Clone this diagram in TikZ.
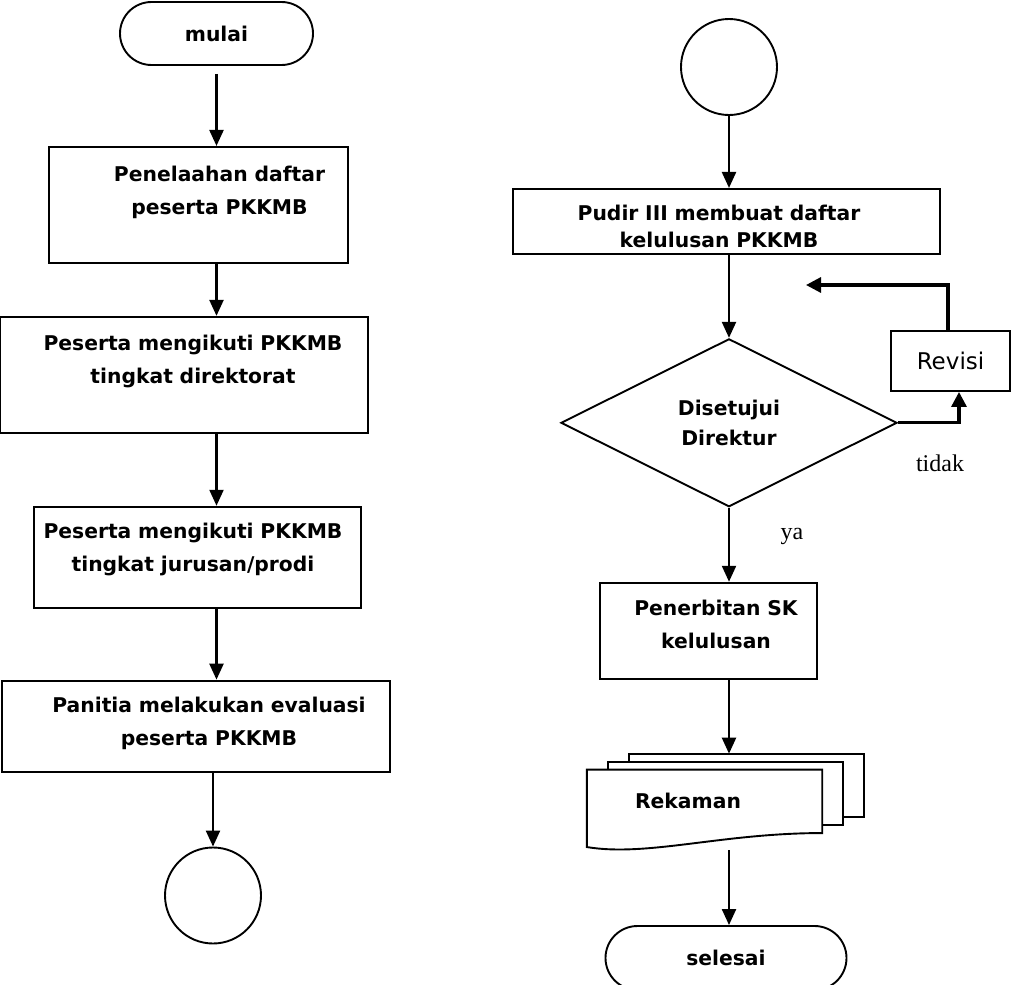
\documentclass[tikz,border=0pt]{standalone}
\usepackage{fontspec}
\setmainfont{DejaVu Sans}
\newfontfamily\ketfont{Liberation Serif}
\usetikzlibrary{positioning, shapes.geometric, shapes.misc, arrows.meta, backgrounds}

\begin{document}
\begin{tikzpicture}[
    x=1pt, y=-1pt,
    font=\bfseries\fontsize{20.3}{33}\selectfont,
    geser/.code={\def\tekgeser{#1}},
    terminal/.style={rounded rectangle, draw, line width=1.9pt, minimum width=#1, minimum height=63pt, inner sep=0pt},
    process/.style 2 args={rectangle, draw, line width=1.9pt, minimum width=#1, text width=#1, minimum height=#2, inner sep=0pt, geser=0pt,
        execute at begin node={\centering\leftskip=\tekgeser plus 1fil\relax}},
    connector/.style={circle, draw, line width=1.9pt, minimum size=96pt, inner sep=0pt},
    decision/.style={diamond, draw, line width=1.9pt, minimum width=336pt, minimum height=168pt, inner sep=0pt, align=center, font=\bfseries\fontsize{20.3}{30}\selectfont},
    docline/.style={draw, line width=1.9pt, fill=white},
    note/.style={font=\ketfont\mdseries\fontsize{24}{28}\selectfont},
    arrow/.style={-{Triangle[length=16pt, width=14pt]}, line width=2.3pt},
    revarrow/.style={-{Triangle[length=15pt, width=15pt]}, line width=3.2pt}
]
\useasboundingbox (0,0) rectangle (1012,985);

% Left column
\node[terminal=193pt] (mulai) at (216.5,33.5) {mulai};
\node[process={299pt}{116pt}, geser=42pt, text depth=62pt, below=80pt of mulai, xshift=-18pt] (telaah) {Penelaahan daftar\\peserta PKKMB};
\node[process={368pt}{116pt}, geser=18pt, text depth=64pt, below=52pt of telaah, xshift=-14.5pt] (direktorat) {Peserta mengikuti PKKMB\\tingkat direktorat};
\node[process={327pt}{101pt}, geser=-9pt, text depth=52pt, below=72pt of direktorat, xshift=13.5pt] (jurusan) {Peserta mengikuti PKKMB\\tingkat jurusan/prodi};
\node[process={388pt}{91pt}, geser=26pt, text depth=43pt, below=71pt of jurusan, xshift=-1.5pt] (evaluasi) {Panitia melakukan evaluasi\\peserta PKKMB};
\node[connector, below=74pt of evaluasi, xshift=17pt] (konkiri) {};

% Right column
\node[connector] (konkanan) at (729,67) {};
\node[process={427pt}{65pt}, geser=-15pt, font=\bfseries\fontsize{20.3}{27}\selectfont, text depth=18pt, below=72pt of konkanan, xshift=-2.5pt] (pudir) {Pudir III membuat daftar\\kelulusan PKKMB};
\node[decision, below=83pt of pudir, xshift=2.5pt] (setuju) {Disetujui\\Direktur};
\node[process={217pt}{96pt}, geser=15pt, text depth=46pt, below=74pt of setuju, xshift=-20.5pt] (terbit) {Penerbitan SK\\kelulusan};
\node[minimum width=235pt, minimum height=63pt, inner sep=0pt, below=90pt of terbit, xshift=-4pt] (rekaman) {Rekaman\hspace*{33pt}};
\node[terminal=241pt, minimum height=64pt, below=92pt of rekaman, xshift=21.5pt] (selesai) {selesai};

% Revision loop
\node[rectangle, draw, line width=1.9pt, minimum width=119pt, minimum height=60pt, inner sep=0pt, font=\mdseries\fontsize{23}{28}\selectfont] (revisi) at (950.5,361) {Revisi};
\coordinate (balik) at (806,285);

% Labels
\node[note] (tidak) at (940,463) {tidak};
\node[note] (ya) at (792,536) {ya};

% Stacked documents
\coordinate (tumpuk) at ([yshift=16pt]rekaman.north);
\coordinate (ekor) at ([yshift=-17pt]rekaman.south);
\begin{scope}[on background layer]
  \foreach \gx/\gy in {42pt/16pt, 21pt/8pt}
    \draw[docline] ([shift={(\gx,\gy)}]rekaman.south west) rectangle ([shift={(\gx,\gy)}]rekaman.north east);
  \draw[docline] (rekaman.north west) -- (rekaman.north east) -- (rekaman.south east)
    .. controls ([xshift=-101pt]rekaman.south east) and ([shift={(61pt,-24pt)}]rekaman.south west) .. ([yshift=-14pt]rekaman.south west) -- cycle;
\end{scope}

% Arrows
\draw[arrow] ([yshift=-8pt]mulai.south) -- (mulai.south |- telaah.north);
\draw[arrow] (mulai.south |- telaah.south) -- (mulai.south |- direktorat.north);
\draw[arrow] (mulai.south |- direktorat.south) -- (mulai.south |- jurusan.north);
\draw[arrow] (mulai.south |- jurusan.south) -- (mulai.south |- evaluasi.north);
\draw[arrow] (konkiri |- evaluasi.south) -- (konkiri.north);
\draw[arrow] (konkanan.south) -- (konkanan.south |- pudir.north);
\draw[arrow] (setuju |- pudir.south) -- (setuju.north);
\draw[arrow] (setuju.south) -- (setuju.south |- terbit.north);
\draw[arrow] (setuju |- terbit.south) -- (setuju |- tumpuk);
\draw[arrow] (setuju |- ekor) -- (setuju |- selesai.north);
\draw[revarrow] (setuju.east) -| ([xshift=8.5pt]revisi.south);
\draw[revarrow] ([xshift=-2.5pt]revisi.north) |- (balik);
\end{tikzpicture}
\end{document}
